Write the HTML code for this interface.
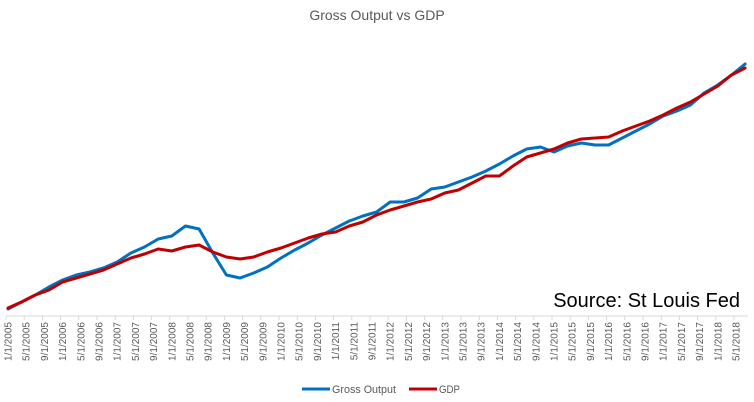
<!DOCTYPE html>
<html><head><meta charset="utf-8"><style>
body{margin:0;background:#fff;}
svg{display:block;font-family:"Liberation Sans",sans-serif;}
</style></head><body>
<svg id="chart" width="754" height="402">
<text x="377" y="20" text-anchor="middle" font-size="14" fill="#595959">Gross Output vs GDP</text>
<line x1="6" y1="316" x2="748" y2="316" stroke="#d9d9d9" stroke-width="1"/>
<g id="ticks"></g>
<g id="series"></g>
<text x="740" y="307" text-anchor="end" font-size="20" fill="#000">Source: St Louis Fed</text>
<g>
<g>
<line x1="302" y1="389" x2="330" y2="389" stroke="#0070C0" stroke-width="3"/>
<text x="332" y="393" font-size="11" fill="#595959" textLength="64" lengthAdjust="spacingAndGlyphs">Gross Output</text></g>
<g>
<line x1="409" y1="389" x2="437" y2="389" stroke="#C00000" stroke-width="3"/>
<text x="439" y="393" font-size="11" fill="#595959" textLength="21" lengthAdjust="spacingAndGlyphs">GDP</text></g>
</g>
</svg>
<script>
const tickLabels = [];
for (let y = 2005; y <= 2018; y++) { for (const m of [1,5,9]) { if (y === 2018 && m === 9) continue; tickLabels.push(m + "/1/" + y); } }
const grossOutput = [11,18,25,33,40,45,48,52,58,67,73,81,84,94,91,67,45,42,47,53,62,70,77,85,92,99,104,108,118,118,122,131,133,138,143,149,156,164,171,173,168,174,177,175,175,182,189,196,204,209,215,227,235,245,256];
const gdp = [12,18,25,30,38,42,46,50,56,62,66,71,69,73,75,68,63,61,63,68,72,77,82,86,88,94,98,105,110,114,118,121,127,130,137,144,144,154,163,167,171,177,181,182,183,189,194,199,205,212,218,226,234,245,252];

const NS = "http://www.w3.org/2000/svg";
const x0 = 8, qStep = 13.65;
function xQ(i){ return x0 + i*qStep; }
function xTick(k){ return x0 + k*qStep*4/3; }
function yV(v){ return 320 - v; }

const tg = document.getElementById('ticks');
tickLabels.forEach((lab,k)=>{
  const x = xTick(k);
  const t = document.createElementNS(NS,'line');
  t.setAttribute('x1',x-2);t.setAttribute('x2',x-2);t.setAttribute('y1',316);t.setAttribute('y2',320);
  t.setAttribute('stroke','#d9d9d9');
  
  
  tg.appendChild(t);
  const tx = document.createElementNS(NS,'text');
  tx.setAttribute('transform','translate('+(x+3.5)+',322) rotate(-90)');
  tx.setAttribute('text-anchor','end');
  tx.setAttribute('font-size','10');
  tx.setAttribute('fill','#595959');
  tx.textContent = lab;
  
  
  tg.appendChild(tx);
});

const sg = document.getElementById('series');
function drawLine(arr,color,name){
  const p = document.createElementNS(NS,'polyline');
  p.setAttribute('points', arr.map((v,i)=>xQ(i).toFixed(1)+','+yV(v).toFixed(1)).join(' '));
  p.setAttribute('fill','none');p.setAttribute('stroke',color);p.setAttribute('stroke-width','3');
  p.setAttribute('stroke-linejoin','round');p.setAttribute('stroke-linecap','round');
  
  
  sg.appendChild(p);
}
drawLine(grossOutput,'#0070C0','gross-output-line');
drawLine(gdp,'#C00000','gdp-line');
</script>
</body></html>
